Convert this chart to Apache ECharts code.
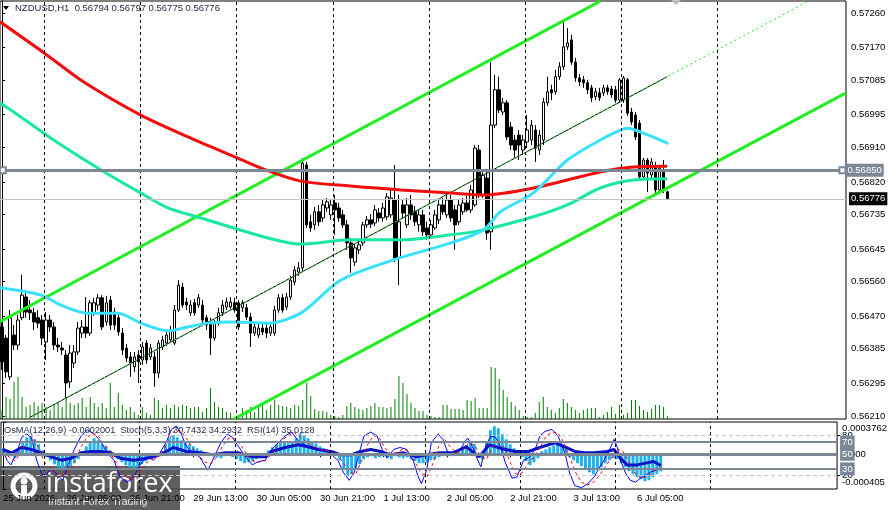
<!DOCTYPE html>
<html>
<head>
<meta charset="utf-8">
<script src="https://cdn.jsdelivr.net/npm/echarts@6/dist/echarts.min.js"></script>
<style>
html, body { margin: 0; padding: 0; background: #fff; }
#chart { width: 890px; height: 510px; }
</style>
</head>
<body>
<div id="chart"></div>
<script>
// NZDUSD H1 bars, prices in 1e-5 units
const opens = [56442,56413,56312,56421,56395,56466,56520,56486,56479,56466,
  56460,56403,56460,56442,56395,56387,56369,56299,56348,56377,
  56426,56442,56426,56479,56499,56518,56455,56512,56481,56466,
  56426,56387,56364,56338,56369,56356,56400,56364,56364,56322,
  56390,56400,56408,56400,56486,56546,56507,56479,56505,56499,
  56499,56466,56452,56413,56452,56479,56494,56494,56505,56505,
  56492,56492,56468,56426,56421,56439,56439,56426,56426,56486,
  56518,56494,56520,56559,56585,56596,56864,56716,56708,56742,
  56726,56752,56734,56765,56752,56734,56708,56661,56611,56643,
  56661,56708,56721,56713,56739,56726,56729,56734,56773,56622,
  56760,56708,56760,56742,56708,56734,56700,56682,56700,56721,
  56760,56734,56773,56747,56716,56742,56765,56747,56760,56903,
  56786,56830,56690,56968,57060,57002,57026,56963,56929,56942,
  56903,56924,56929,56955,56903,56929,57026,57060,57055,57094,
  57120,57172,57190,57132,57091,57086,57078,57065,57042,57052,
  57052,57065,57062,57060,57033,57033,57086,57002,56994,56973,
  56833,56877,56838,56856,56799,56851,56794];
const closes = [56351,56325,56466,56395,56460,56525,56481,56479,56455,56452,
  56413,56460,56442,56395,56390,56382,56296,56374,56377,56439,
  56442,56426,56505,56505,56518,56442,56505,56447,56447,56429,
  56382,56361,56348,56364,56351,56390,56356,56387,56322,56400,
  56408,56421,56434,56486,56551,56499,56499,56499,56479,56518,
  56460,56447,56413,56452,56479,56499,56507,56507,56486,56442,
  56505,56468,56426,56442,56439,56429,56426,56442,56486,56518,
  56486,56520,56564,56590,56596,56869,56708,56700,56742,56716,
  56760,56768,56760,56747,56726,56708,56661,56622,56648,56656,
  56708,56721,56710,56747,56726,56752,56781,56778,56622,56716,
  56739,56760,56734,56716,56734,56690,56682,56708,56734,56760,
  56742,56773,56726,56708,56760,56765,56747,56799,56908,56786,
  56838,56687,56968,57060,57007,57026,56937,56916,56903,56916,
  56929,56955,56968,56908,56942,57028,57055,57052,57094,57120,
  57172,57182,57132,57091,57081,57078,57060,57039,57055,57039,
  57065,57055,57047,57033,57086,57091,56999,56976,56937,56833,
  56877,56843,56872,56799,56856,56799,56776];
const lows = [56330,56309,56304,56382,56382,56460,56466,56460,56434,56439,
  56395,56356,56429,56382,56377,56369,56257,56283,56335,56369,
  56413,56413,56419,56471,56486,56434,56445,56434,56434,56419,
  56369,56351,56312,56325,56296,56343,56346,56356,56286,56309,
  56382,56393,56400,56395,56481,56492,56486,56471,56471,56492,
  56452,56434,56369,56406,56445,56471,56486,56489,56479,56434,
  56481,56460,56390,56419,56413,56421,56413,56419,56419,56479,
  56479,56486,56512,56551,56575,56585,56700,56690,56695,56705,
  56716,56742,56721,56682,56716,56700,56643,56583,56601,56632,
  56653,56700,56700,56705,56716,56716,56721,56726,56611,56551,
  56726,56700,56721,56705,56690,56679,56669,56674,56695,56710,
  56734,56726,56716,56643,56708,56734,56742,56739,56755,56778,
  56778,56669,56643,56960,56999,56994,56929,56903,56882,56877,
  56890,56908,56916,56872,56890,56916,57018,57033,57047,57086,
  57112,57164,57125,57081,57070,57065,57049,57028,57033,57031,
  57044,57047,57039,57026,57026,57026,56992,56968,56929,56825,
  56825,56794,56830,56791,56794,56791,56775];
const highs = [56460,56421,56486,56447,56473,56578,56538,56512,56492,56486,
  56473,56481,56473,56455,56413,56403,56382,56395,56395,56455,
  56460,56520,56512,56518,56528,56525,56523,56523,56492,56476,
  56439,56398,56377,56377,56382,56403,56408,56398,56377,56408,
  56419,56434,56445,56499,56564,56557,56518,56512,56515,56528,
  56512,56473,56466,56460,56492,56512,56518,56520,56518,56512,
  56512,56502,56479,56455,56450,56450,56450,56455,56497,56528,
  56528,56531,56575,56601,56611,56882,56872,56734,56755,56760,
  56773,56778,56773,56786,56765,56747,56721,56674,56658,56669,
  56716,56731,56736,56760,56752,56765,56791,56799,56864,56786,
  56773,56778,56786,56757,56747,56747,56716,56721,56747,56773,
  56778,56786,56786,56760,56773,56778,56783,56812,56916,56916,
  56851,56851,57132,57099,57094,57039,57033,56976,56942,56955,
  56942,56994,56981,56968,56955,57039,57094,57073,57112,57132,
  57237,57221,57203,57143,57101,57096,57086,57073,57065,57065,
  57073,57073,57070,57070,57091,57096,57091,57013,57002,56981,
  56882,56882,56882,56872,56864,56877,56797];
// tick volume
const volumes = [90,220,200,370,420,220,120,140,170,130,
  160,120,90,140,160,120,210,160,140,160,
  210,120,220,160,120,160,110,360,120,260,
  140,90,120,70,40,120,60,40,210,190,
  110,140,110,140,120,140,130,110,120,120,
  70,110,310,170,120,110,70,60,20,40,
  110,90,120,70,140,160,90,140,190,140,
  130,120,110,140,130,190,360,230,100,80,
  80,70,40,30,20,40,130,160,120,100,
  90,110,130,160,120,120,110,120,200,430,
  360,250,160,110,80,80,40,30,20,20,
  140,140,100,100,100,90,190,180,210,110,
  110,110,520,510,400,290,220,170,130,90,
  30,20,20,60,170,220,120,90,60,110,
  200,160,120,90,60,90,100,110,110,20,
  40,70,120,50,140,40,60,190,190,130,
  90,70,100,140,140,120,30];
// OsMA(12,26,9) histogram, 1e-6 units
const osma = [70,47,-23,-47,58,140,198,210,175,117,
  47,-35,-70,-117,-152,-163,-163,-140,-105,-58,
  35,93,140,187,163,117,93,47,-23,-58,
  -93,-128,-152,-163,-152,-117,-82,-47,-35,-23,
  35,117,187,222,198,163,140,117,93,70,
  47,23,-23,12,-35,-47,-23,12,-35,-58,
  -82,-105,-93,-82,-58,-35,-12,47,82,117,
  140,152,128,152,187,245,222,187,152,128,
  93,70,47,12,-12,-70,-163,-257,-233,-175,
  -117,-58,-35,-23,-47,-35,-23,-35,-58,-23,
  -35,-47,-35,-58,-82,-105,-105,-93,-70,-58,
  -35,23,35,-23,12,23,58,105,152,117,
  -35,-58,140,280,326,303,233,175,117,70,
  35,-35,-82,-128,-93,-47,35,58,82,105,
  128,117,70,-35,-70,-105,-140,-175,-210,-233,
  -187,-152,-105,-70,-47,-58,-105,-152,-198,-233,
  -268,-292,-315,-303,-268,-233,-200];

// moving averages: [bar index, price 1e-5]
const ma200 = [[-0.5,57237],[10.5,57156],[20.4,57080],[34.6,56994],[47.1,56934],[58.8,56882],[65.8,56851],
  [74.5,56822],[86.9,56809],[99.4,56799],[111.9,56791],[120.1,56786],[132.5,56804],[149.2,56846],
  [157.4,56859],[165.9,56861]];
const ma100 = [[-0.5,57026],[4.7,56989],[12.2,56934],[24.7,56851],[34.6,56791],[41.4,56752],[49.6,56726],
  [57.8,56700],[66.3,56674],[74.5,56658],[86.9,56669],[99.4,56669],[111.9,56682],[120.1,56695],
  [132.5,56729],[141,56760],[149.2,56804],[157.4,56825],[165.9,56828]];
const ma50 = [[-0.5,56544],[9.7,56525],[14.7,56499],[21.4,56478],[28.9,56478],[34.6,56452],[41.4,56432],
  [46.3,56442],[51.3,56452],[57.8,56455],[66.3,56452],[74.5,56478],[84.5,56564],[97.7,56617],
  [111.9,56661],[120.1,56695],[124.3,56742],[132.5,56791],[141,56877],[149.2,56929],[154.2,56955],
  [156,56960],[160.4,56945],[166.2,56920]];
// price channel
const channelTop = [[-0.5,56456],[149.2,57291]];
const channelBottom = [[57.8,56202],[210.5,57052]];
const channelMid = [[6.7,56205],[200.8,57289]];
const channelMidDrawn = [[6.7,56205],[165.9,57094]];

// Stoch(5,3,3) main / signal and RSI(14): [bar index, value]
const stochMain = [[0,59],[1,43],[2,36],[3.5,54],[4.7,77],[6,82],[7.2,77],[8.5,43],[9.7,24],[10.5,18],
  [12.2,31],[13.9,20],[15.1,13],[16.4,36],[18,59],[19.7,79],[21.3,88],[23,82],[24.7,71],[26.3,54],
  [28,43],[29.6,18],[31.3,10],[33,18],[34.6,36],[36.3,48],[38,43],[39.6,54],[41.3,71],[42.5,89],
  [43.8,94],[45,82],[46.3,63],[48,54],[49.6,48],[51.7,28],[53.3,48],[55,69],[56.6,82],[57.9,77],
  [59.5,63],[61.2,48],[62.9,36],[64.5,41],[66.2,43],[67.8,59],[69.5,69],[71.2,79],[72.8,85],[74.5,72],
  [77,63],[79.5,59],[82,56],[84.5,43],[86,24],[87.4,13],[88.6,24],[89.9,54],[91.1,79],[92.8,85],
  [94.4,79],[95.7,59],[96.9,46],[98.6,59],[100.2,62],[101.9,59],[103.6,41],[104.8,18],[105.6,8],[106.9,28],
  [108.1,69],[109.8,82],[111,74],[112.3,54],[113.5,51],[115.2,56],[116.4,69],[117.3,76],[118.5,63],[119.8,43],
  [120.6,33],[121.8,63],[123.1,79],[124.3,77],[125.6,63],[126.8,39],[128.5,16],[129.7,18],[131.4,43],[132.6,46],
  [134.3,59],[135.5,79],[136.8,86],[138.5,89],[140.1,79],[141.8,54],[143,24],[144.3,5],[146,2],[147.6,8],
  [149.2,18],[150.4,31],[151.7,43],[152.9,56],[154.2,74],[155,63],[155.8,43],[157.1,24],[158.3,13],[159.6,10],
  [160.8,16],[162.1,20],[163.3,25],[164.6,28],[166,30.7]];
const stochSignal = [[0,55],[1.5,48],[3,42],[4.5,55],[6,70],[7.5,78],[9,62],[10.5,40],[12,28],[13.5,24],
  [15,20],[16.5,24],[18,40],[19.5,60],[21,75],[22.5,83],[24,80],[25.5,68],[27,55],[28.5,40],
  [30,25],[31.5,16],[33,15],[34.5,24],[36,38],[37.5,45],[39,48],[40.5,58],[42,75],[43.5,88],
  [45,86],[46.5,74],[48,60],[49.5,50],[51,40],[52.5,38],[54,48],[55.5,65],[57,76],[58.5,75],
  [60,66],[61.5,52],[63,42],[64.5,40],[66,42],[67.5,50],[69,62],[70.5,73],[72,80],[73.5,84],
  [75,78],[77,68],[79.5,60],[82,57],[84.5,50],[86,38],[87.5,25],[89,22],[90.5,42],[92,66],
  [93.5,80],[95,76],[96.5,60],[98,52],[99.5,55],[101,60],[102.5,55],[104,40],[105.5,24],[107,18],
  [108.5,38],[110,64],[111.5,74],[113,62],[114.5,54],[116,58],[117.5,68],[119,66],[120.5,50],[122,44],
  [123.5,62],[125,74],[126.5,62],[128,40],[129.5,22],[131,24],[132.5,38],[134,48],[135.5,62],[137,78],
  [138.5,85],[140,84],[141.5,70],[143,48],[144.5,25],[146,10],[147.5,6],[149,10],[150.5,20],[152,33],
  [153.5,46],[155,60],[156.5,56],[158,40],[159.5,24],[161,16],[162.5,18],[164,25],[166,34.3]];
const rsi = [[0,59],[2.2,54],[4.7,62],[7.2,59],[9.7,54],[12.2,48],[14.7,43],[17.2,46],[19.7,54],[22.2,56],
  [24.7,56],[27.2,54],[29.6,46],[33,43],[36.3,46],[39.6,51],[43,62],[46.3,56],[49.6,54],[53,51],
  [56.2,54],[59.5,54],[62.9,48],[66.2,48],[67.8,56],[71.2,62],[74.5,66],[77,63],[79.5,59],[82.8,56],
  [85.3,51],[87.8,51],[90.3,56],[92.8,59],[95.3,56],[97.8,51],[101.1,54],[104.4,48],[106.9,51],[110.2,54],
  [113.5,54],[116.9,63],[120.2,48],[122.7,66],[126,60],[129.3,56],[132.6,56],[136,63],[139.3,69],[141.8,63],
  [144.3,56],[146.8,54],[149.2,54],[152.5,56],[154.2,59],[155.8,46],[157.5,36],[160,36],[162.5,39],[164.2,41],
  [166,35]];

// axes
const priceTicks = [0.5726, 0.5717, 0.57085, 0.56995, 0.5691, 0.5682, 0.56735, 0.56645, 0.5656, 0.5647, 0.56385, 0.56295, 0.5621];
const osmaTicks = [376.2, 0, -405];
const osmaTickText = ['0.0003762', '0.000', '-0.000405'];
const oscTicks = [20, 80];
const oscLevels = [80, 70, 30, 20];
const daySeparators = [10.5, 34.5, 58.5, 82.5, 106.5, 130.5, 154.5, 178.5];
const timeIdx = [0, 16, 32, 48, 64, 80, 96, 112, 128, 144, 160];
const timeLabels = ['25 Jun 2026', '26 Jun 05:00', '26 Jun 21:00', '29 Jun 13:00', '30 Jun 05:00', '30 Jun 21:00',
  '1 Jul 13:00', '2 Jul 05:00', '2 Jul 21:00', '3 Jul 13:00', '6 Jul 05:00'];
const askLevel = 0.5685;

const N = 211;
const cats = Array.from({ length: N }, (_, i) => String(i));
const font = 'Liberation Sans, Arial, sans-serif';
const last = opens.length - 1;
const fmt = v => (v / 1e5).toFixed(5);
const pts = arr => arr.map(([i, v]) => [i, v / 1e5]);
const candles = opens.map((o, i) => [o / 1e5, closes[i] / 1e5, lows[i] / 1e5, highs[i] / 1e5]);

const chart = echarts.init(document.getElementById('chart'));

const line = (data, color, width, extra) => Object.assign({
  type: 'line', xAxisIndex: 1, yAxisIndex: 0, data: pts(data),
  showSymbol: false, symbol: 'none', silent: true, z: 3,
  lineStyle: { color, width }
}, extra || {});

const sepLines = {
  symbol: ['none', 'none'], silent: true, animation: false,
  label: { show: false },
  lineStyle: { color: '#000', type: [3, 3], width: 1 },
  data: daySeparators.map(v => ({ xAxis: v }))
};
const boxLabel = (text, bg) => ({
  show: true, position: 'end', formatter: text, distance: 3,
  color: '#fff', backgroundColor: bg, padding: [2, 2, 1, 2],
  fontSize: 9.5, fontFamily: font
});

chart.setOption({
  animation: false,
  backgroundColor: '#fff',
  grid: [
    { left: -1, top: 1, width: 847, height: 418, show: true, borderColor: '#000', borderWidth: 1 },
    { left: -1, top: 422, width: 847, height: 67, show: true, borderColor: '#000', borderWidth: 1 }
  ],
  xAxis: [
    { type: 'category', gridIndex: 0, data: cats, show: false },
    { type: 'value', gridIndex: 0, min: -0.5, max: N - 0.5, show: false },
    {
      type: 'category', gridIndex: 1, data: cats,
      axisLine: { show: false },
      axisTick: { show: true, alignWithLabel: true, length: 3, lineStyle: { color: '#000' },
        interval: i => timeIdx.includes(i) },
      axisLabel: { interval: i => timeIdx.includes(i), align: 'left', margin: 4,
        fontSize: 9.5, fontFamily: font, color: '#000',
        formatter: v => { const k = timeIdx.indexOf(+v); return k >= 0 ? timeLabels[k] : ''; } },
      splitLine: { show: false }
    },
    { type: 'value', gridIndex: 1, min: -0.5, max: N - 0.5, show: false }
  ],
  yAxis: [
    {
      type: 'value', gridIndex: 0, position: 'right', min: 0.562022, max: 0.572913,
      axisLine: { show: true, lineStyle: { color: '#000' } },
      axisTick: { show: true, length: 3, customValues: priceTicks, lineStyle: { color: '#000' } },
      axisLabel: { customValues: priceTicks, formatter: v => v.toFixed(5), margin: 5,
        fontSize: 9.5, fontFamily: font, color: '#000' },
      splitLine: { show: false }
    },
    { type: 'value', gridIndex: 0, min: 0, max: 4180, show: false },
    {
      type: 'value', gridIndex: 1, position: 'right', min: -405, max: 376.2,
      axisLine: { show: true, lineStyle: { color: '#000' } },
      axisTick: { show: true, length: 3, customValues: osmaTicks, lineStyle: { color: '#000' } },
      axisLabel: { customValues: osmaTicks, margin: 5, fontSize: 9.5, fontFamily: font, color: '#000',
        formatter: v => {
          const k = osmaTicks.indexOf(v);
          return k === 0 ? '{t|' + osmaTickText[0] + '}' : k === 2 ? '{b|' + osmaTickText[2] + '}' : osmaTickText[1];
        },
        rich: { t: { padding: [12, 0, 0, 0], fontSize: 9.5, fontFamily: font, color: '#000' },
                b: { padding: [0, 0, 14, 0], fontSize: 9.5, fontFamily: font, color: '#000' } } },
      splitLine: { show: false }
    },
    {
      type: 'value', gridIndex: 1, position: 'right', min: 0, max: 100,
      axisLine: { show: false },
      axisTick: { show: true, length: 3, customValues: oscTicks, lineStyle: { color: '#000' } },
      axisLabel: { customValues: oscTicks, margin: 5, fontSize: 9.5, fontFamily: font, color: '#000' },
      splitLine: { show: false }
    }
  ],
  series: [
    // day separators, main panel
    { type: 'line', xAxisIndex: 1, yAxisIndex: 0, data: [], z: 1, markLine: sepLines },
    // volumes
    { type: 'bar', xAxisIndex: 0, yAxisIndex: 1, data: volumes, barWidth: 1, silent: true, z: 2,
      itemStyle: { color: '#008000' } },
    // candles
    { type: 'candlestick', xAxisIndex: 0, yAxisIndex: 0, data: candles, barWidth: 3, silent: true, z: 2,
      itemStyle: { color: '#fff', color0: '#000', borderColor: '#000', borderColor0: '#000', borderWidth: 1 } },
    line(channelTop, '#22ee22', 3),
    line(channelBottom, '#22ee22', 3),
    line(channelMidDrawn, '#000', 1),
    line(channelMid, '#22ee22', 1, { lineStyle: { color: '#22ee22', width: 1, type: [2, 3] } }),
    line(ma200, '#f20d0d', 3, { smooth: 0.3 }),
    line(ma100, '#19e8a2', 3, { smooth: 0.3 }),
    line(ma50, '#38e2ff', 3, { smooth: 0.3 }),
    // ask / bid levels
    {
      type: 'line', xAxisIndex: 1, yAxisIndex: 0, data: [], z: 5,
      markLine: {
        silent: true, animation: false,
        data: [
          [{ coord: [-0.5, closes[last] / 1e5], symbol: 'none', lineStyle: { color: '#c4c4c4', width: 1, type: 'solid' },
             label: boxLabel(fmt(closes[last]), '#000') },
           { coord: [N - 0.5, closes[last] / 1e5], symbol: 'none' }],
          [{ coord: [0.2, askLevel], symbol: 'emptyRect', symbolSize: 6,
             lineStyle: { color: '#7b8794', width: 3, type: 'solid' },
             label: boxLabel(askLevel.toFixed(5), '#7b8794') },
           { coord: [209.6, askLevel], symbol: 'emptyRect', symbolSize: 6 }]
        ]
      }
    },
    // lower panel
    { type: 'line', xAxisIndex: 3, yAxisIndex: 3, data: [], z: 1, markLine: sepLines },
    {
      type: 'bar', xAxisIndex: 2, yAxisIndex: 2, data: osma, barWidth: 3, silent: true, z: 2,
      itemStyle: { color: '#22b2ea' },
      markLine: {
        silent: true, symbol: ['none', 'none'], animation: false,
        data: [{ yAxis: 0, lineStyle: { color: '#7b8794', width: 3, type: 'solid' }, label: boxLabel('50', '#7b8794') }]
      }
    },
    {
      type: 'line', xAxisIndex: 3, yAxisIndex: 3, data: [], z: 2,
      markLine: {
        silent: true, symbol: ['none', 'none'], animation: false,
        data: oscLevels.map(v => (v === 80 || v === 20)
          ? { yAxis: v, lineStyle: { color: '#c8c8c8', width: 1, type: [4, 3] }, label: { show: false } }
          : { yAxis: v, lineStyle: { color: '#7b8794', width: 2, type: 'solid' }, label: boxLabel(String(v), '#7b8794') })
      }
    },
    { type: 'line', xAxisIndex: 3, yAxisIndex: 3, data: rsi, showSymbol: false, symbol: 'none', silent: true, z: 3,
      lineStyle: { color: '#0a14c8', width: 3 } },
    { type: 'line', xAxisIndex: 3, yAxisIndex: 3, data: stochMain, showSymbol: false, symbol: 'none', silent: true, z: 4,
      lineStyle: { color: '#0000ff', width: 1 } },
    { type: 'line', xAxisIndex: 3, yAxisIndex: 3, data: stochSignal, showSymbol: false, symbol: 'none', silent: true, z: 4,
      lineStyle: { color: '#ff0000', width: 1, type: [3, 3] } }
  ],
  graphic: [
    { type: 'polygon', shape: { points: [[3, 6], [9, 6], [6, 10]] }, style: { fill: '#000' }, z: 10 },
    { type: 'text', x: 15, y: 8, z: 10, style: {
      text: 'NZDUSD,H1  ' + [opens[last], highs[last], lows[last], closes[last]].map(fmt).join(' '),
      fill: '#1c2640', fontSize: 9.5, fontFamily: font, verticalAlign: 'middle' } },
    { type: 'polygon', shape: { points: [[671, 0], [681, 0], [676, 5]] }, style: { fill: '#bdbdbd' }, z: 10 },
    { type: 'text', x: 4, y: 430, z: 10, style: {
      text: 'OsMA(12,26,9) -0.0002001  Stoch(5,3,3) 30.7432 34.2932  RSI(14) 35.0128',
      fill: '#1c2640', fontSize: 9.2, fontFamily: font, verticalAlign: 'middle' } },
    { type: 'group', z: 20, children: [
      { type: 'rect', shape: { x: 0, y: 466, width: 180, height: 44 }, style: { fill: 'rgba(72,72,72,0.88)' } },
      { type: 'circle', shape: { cx: 24, cy: 486, r: 11 }, style: { fill: 'none', stroke: '#fff', lineWidth: 5 } },
      { type: 'circle', shape: { cx: 24, cy: 481, r: 3.5 }, style: { fill: '#fff' } },
      { type: 'rect', shape: { x: 21, y: 485, width: 6, height: 10 }, style: { fill: '#fff' } },
      { type: 'text', x: 46, y: 484, style: { text: 'instaforex', fill: '#fff', fontSize: 27,
        fontFamily: 'Open Sans, sans-serif', verticalAlign: 'middle' } },
      { type: 'text', x: 48, y: 502, style: { text: 'Instant Forex Trading', fill: '#e6e6e6', fontSize: 10.5,
        fontFamily: font, verticalAlign: 'middle' } }
    ] }
  ]
});
</script>
</body>
</html>
